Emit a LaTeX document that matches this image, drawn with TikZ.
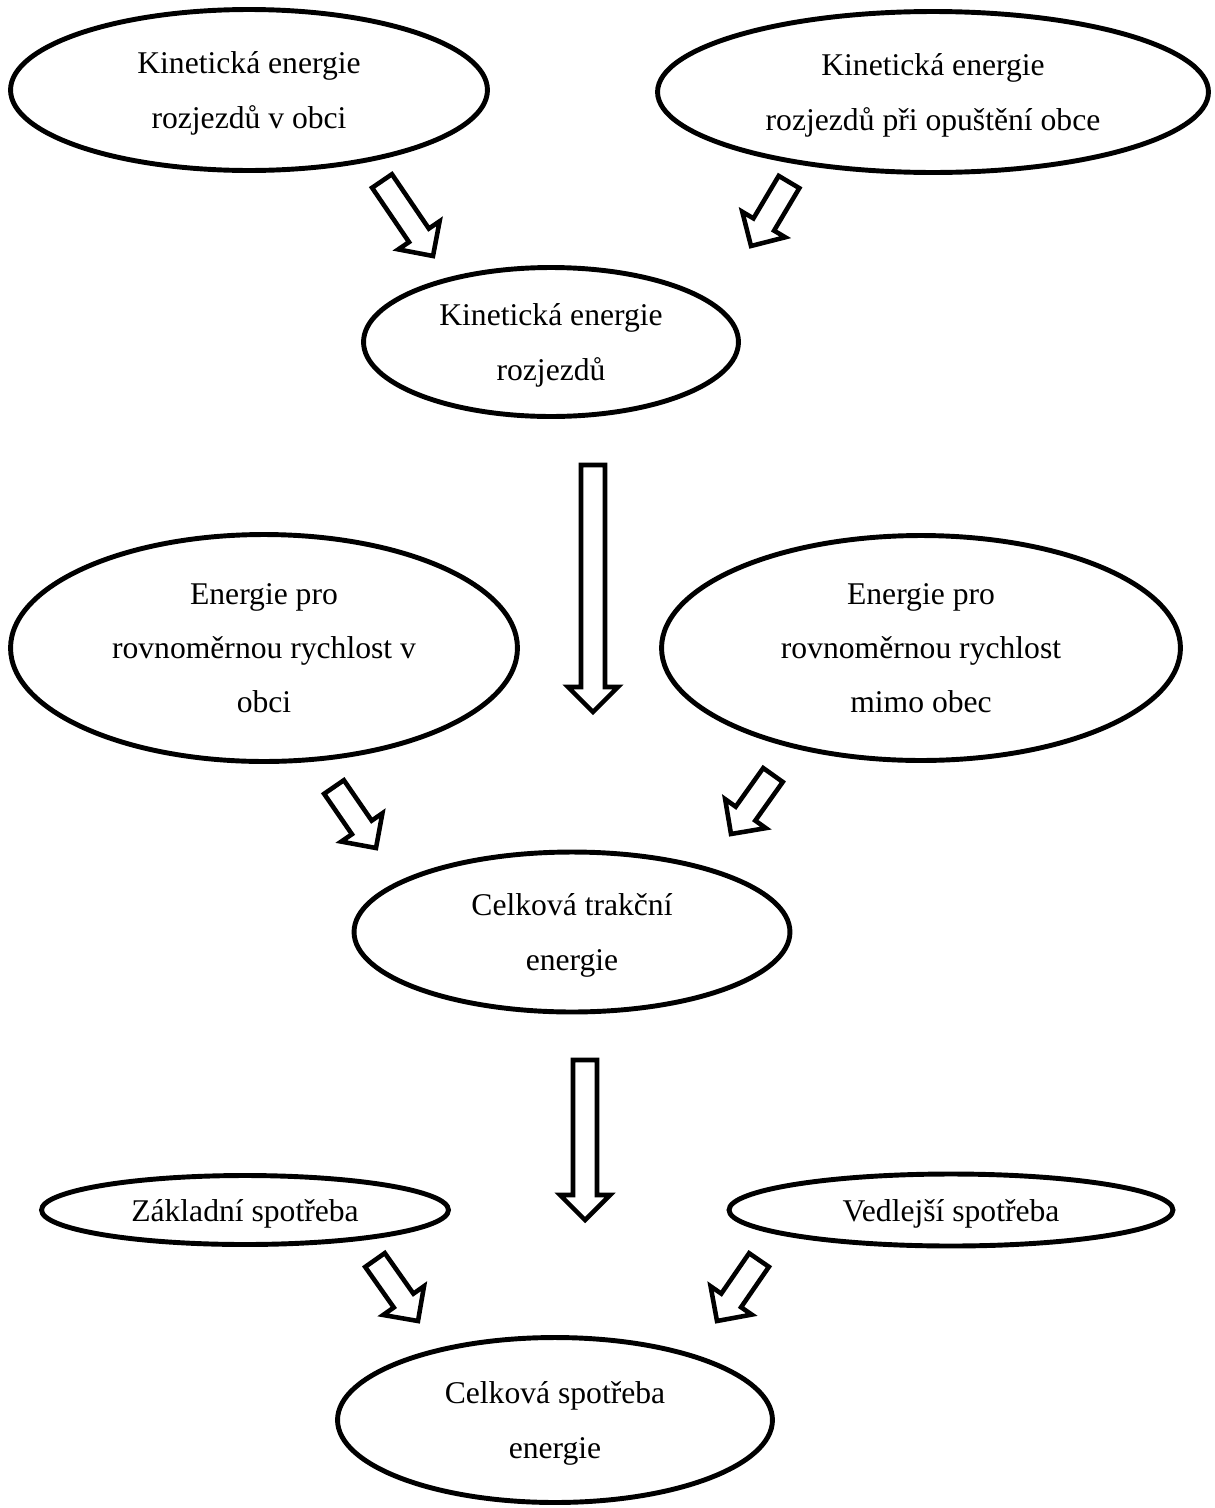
\documentclass[tikz,border=0pt]{standalone}
\usepackage{fontspec}
\setmainfont{Liberation Serif}
\usetikzlibrary{shapes.geometric,calc}

\tikzset{
  bubble/.style={draw, ellipse, line width=2.8pt, inner sep=0pt, align=center, text depth=0pt,
    font=\fontsize{18}{31}\selectfont},
  hollow/.style={draw, line width=2.6pt, fill=white}
}
% hollow block arrow from #1 (tail) to #2 (tip)
\newcommand{\hollowarrow}[2]{%
  \coordinate (hb) at ($(#2)!0.5cm!(#1)$);
  \draw[hollow] ($(#1)!0.24cm!90:(#2)$) -- ($(hb)!0.24cm!90:(#2)$) -- ($(hb)!0.5cm!90:(#2)$) -- (#2)
    -- ($(hb)!0.5cm!-90:(#2)$) -- ($(hb)!0.24cm!-90:(#2)$) -- ($(#1)!0.24cm!-90:(#2)$) -- cycle;}

\begin{document}
\begin{tikzpicture}[x=0.02cm, y=-0.02cm]
	\useasboundingbox (0,0) rectangle (1214,1508);
	\node[bubble, minimum width=9.54cm, minimum height=3.22cm] (kinObec) at (249,90) {Kinetická energie\\rozjezdů v obci};
	\node[bubble, minimum width=11.02cm, minimum height=3.22cm] (kinMimo) at (933,92) {Kinetická energie\\rozjezdů při opuštění obce};
	\node[bubble, minimum width=7.5cm, minimum height=2.98cm] (kin) at (551,342) {Kinetická energie\\rozjezdů};
	\node[bubble, minimum width=10.14cm, minimum height=4.54cm] (rovObec) at (264,648) {Energie pro\\rovnoměrnou rychlost v\\obci};
	\node[bubble, minimum width=10.38cm, minimum height=4.5cm] (rovMimo) at (921,648) {Energie pro\\rovnoměrnou rychlost\\mimo obec};
	\node[bubble, minimum width=8.72cm, minimum height=3.2cm] (trakce) at (572,932) {Celková trakční\\energie};
	\node[bubble, minimum width=8.14cm, minimum height=1.38cm] (zakl) at (245,1210) {Základní spotřeba};
	\node[bubble, minimum width=8.88cm, minimum height=1.44cm] (vedl) at (951,1210) {Vedlejší spotřeba};
	\node[bubble, minimum width=8.7cm, minimum height=3.3cm] (celkem) at (555,1420) {Celková spotřeba\\energie};

	\coordinate (a1) at (382,181); \coordinate (b1) at (433,256);
	\coordinate (a2) at (789,182); \coordinate (b2) at (751,246);
	\coordinate (a3) at (593,465); \coordinate (b3) at (593,712);
	\coordinate (a4) at (334,787); \coordinate (b4) at (376,848);
	\coordinate (a5) at (773,775); \coordinate (b5) at (731,834);
	\coordinate (a6) at (585,1060); \coordinate (b6) at (585,1220);
	\coordinate (a7) at (375,1260); \coordinate (b7) at (418,1321);
	\coordinate (a8) at (759,1260); \coordinate (b8) at (717,1321);
	\foreach \i in {1,...,8}{\hollowarrow{a\i}{b\i}}
\end{tikzpicture}
\end{document}
